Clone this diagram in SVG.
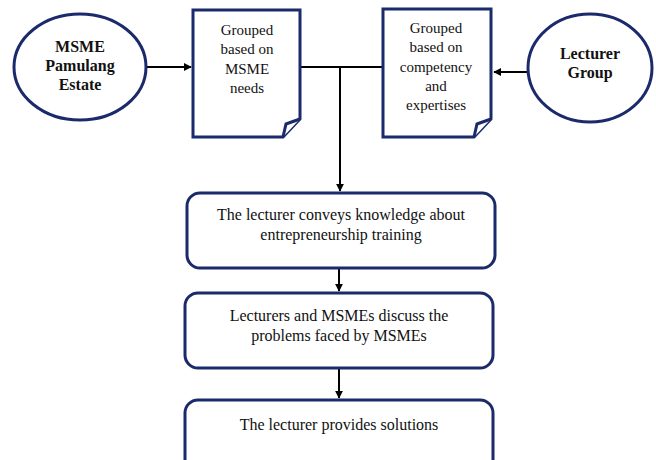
<svg xmlns="http://www.w3.org/2000/svg" width="656" height="460" viewBox="0 0 656 460">
<defs>
<marker id="ah" viewBox="0 0 10 10" refX="9" refY="5" markerWidth="4" markerHeight="4" orient="auto-start-reverse" markerUnits="strokeWidth"><path d="M0,0 L10,5 L0,10 z" fill="#000"/></marker>
<style>
.sh{fill:#fff;stroke:#1b2a6b;stroke-width:3}
.t{font-family:"Liberation Serif","DejaVu Serif",serif;font-size:16px;fill:#111;text-anchor:middle}
.d{font-size:15px}
.b{font-weight:bold;font-size:16px}
.c{stroke:#000;stroke-width:2;fill:none}
.fold{fill:#fff;stroke:#1b2a6b;stroke-width:3;stroke-linejoin:miter}
</style>
</defs>
<rect width="656" height="460" fill="#fff"/>
<g id="connectors">
<line class="c" x1="147" y1="67" x2="191" y2="67" marker-end="url(#ah)"/>
<line class="c" x1="529" y1="72" x2="494" y2="72" marker-end="url(#ah)"/>
<line class="c" x1="300" y1="67" x2="383" y2="67"/>
<line class="c" x1="340" y1="67" x2="340" y2="191" marker-end="url(#ah)"/>
<line class="c" x1="339" y1="268" x2="339" y2="291" marker-end="url(#ah)"/>
<line class="c" x1="339" y1="368" x2="339" y2="398" marker-end="url(#ah)"/>
</g>
<g id="msme">
<ellipse class="sh" cx="80" cy="67" rx="66" ry="53"/>
<text class="t b" x="80" y="52" font-family="Liberation Serif, serif">MSME</text>
<text class="t b" x="80" y="71" font-family="Liberation Serif, serif">Pamulang</text>
<text class="t b" x="80" y="90" font-family="Liberation Serif, serif">Estate</text>
</g>
<g id="doc-msme">
<path class="sh" d="M193,10 H300 V119 L283,137 H193 Z"/>
<path class="fold" d="M283,137 L286,124 L300,119"/>
<text class="t d" x="247" y="35">Grouped</text>
<text class="t d" x="247" y="54">based on</text>
<text class="t d" x="247" y="74">MSME</text>
<text class="t d" x="247" y="93">needs</text>
</g>
<g id="doc-lecturer">
<path class="sh" d="M383,9 H491 V119 L474,137 H383 Z"/>
<path class="fold" d="M474,137 L477,124 L491,119"/>
<text class="t d" x="436" y="33">Grouped</text>
<text class="t d" x="436" y="52">based on</text>
<text class="t d" x="436" y="72">competency</text>
<text class="t d" x="436" y="91">and</text>
<text class="t d" x="436" y="110">expertises</text>
</g>
<g id="lecturer">
<ellipse class="sh" cx="590" cy="68" rx="62" ry="54"/>
<text class="t b" x="590" y="59">Lecturer</text>
<text class="t b" x="590" y="78">Group</text>
</g>
<g id="box1">
<rect class="sh" x="187" y="193" width="308" height="75" rx="13"/>
<text class="t" x="341" y="220">The lecturer conveys knowledge about</text>
<text class="t" x="341" y="240">entrepreneurship training</text>
</g>
<g id="box2">
<rect class="sh" x="185" y="293" width="308" height="75" rx="13"/>
<text class="t" x="339" y="321">Lecturers and MSMEs discuss the</text>
<text class="t" x="339" y="341">problems faced by MSMEs</text>
</g>
<g id="box3">
<rect class="sh" x="185" y="400" width="308" height="75" rx="13"/>
<text class="t" x="339" y="430">The lecturer provides solutions</text>
</g>
</svg>
